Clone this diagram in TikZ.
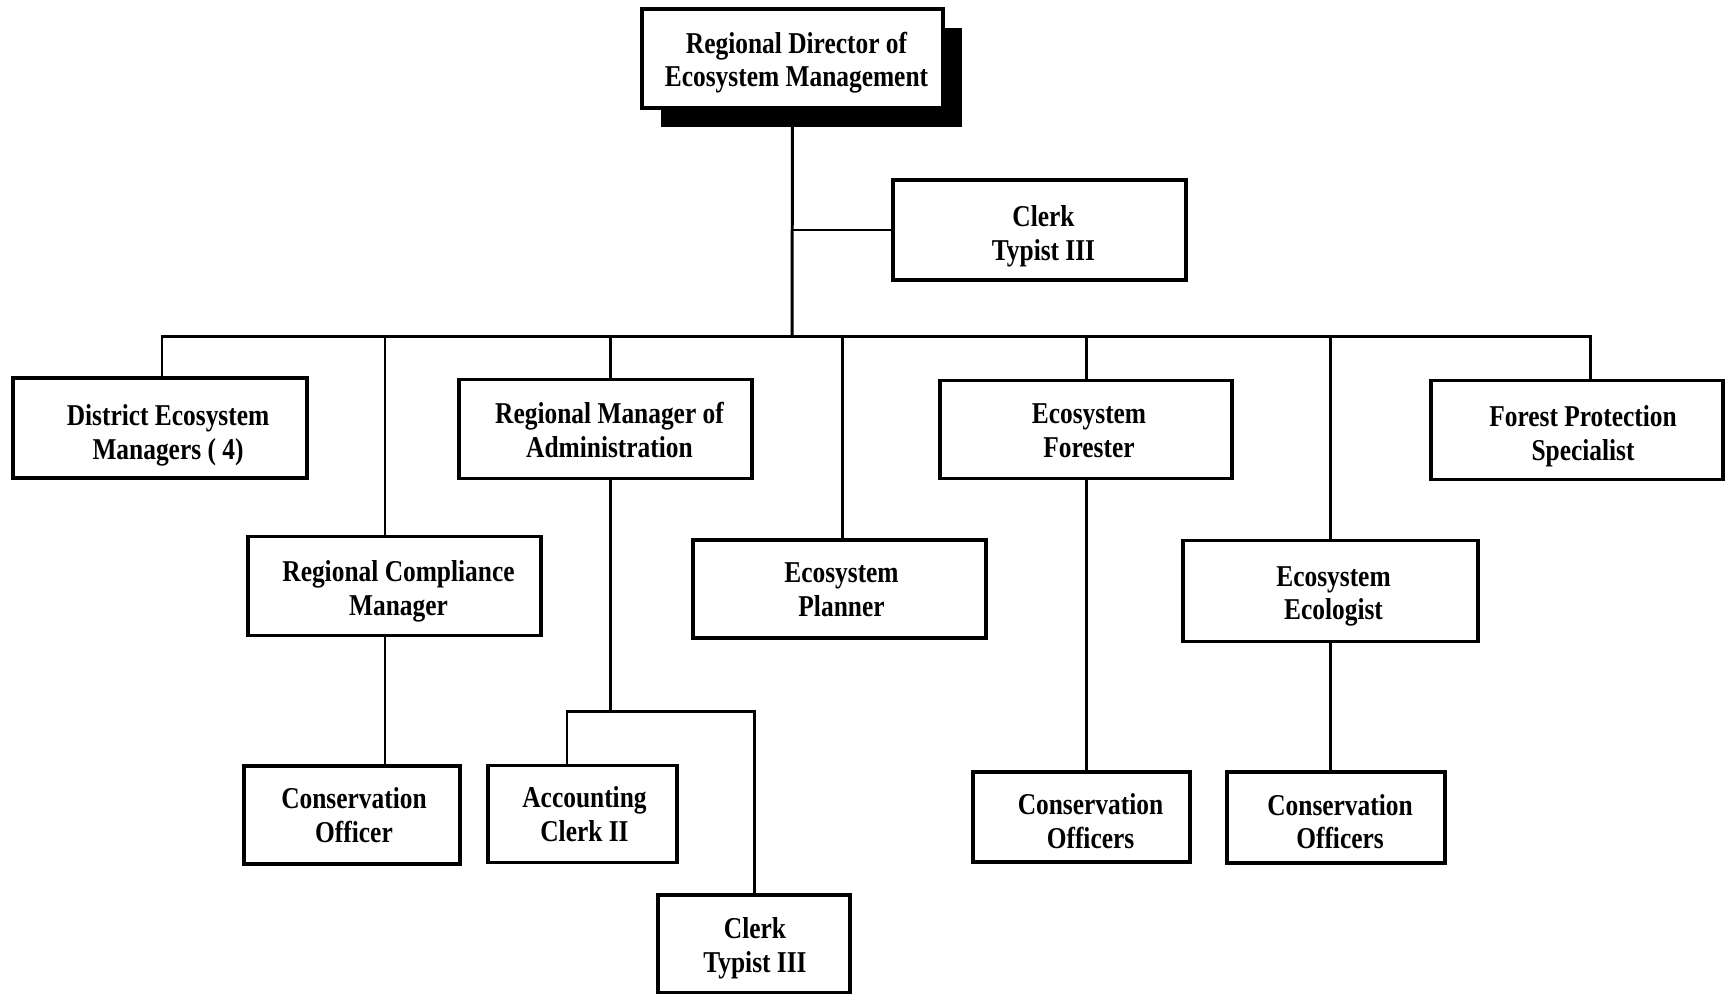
\documentclass[tikz,border=0pt]{standalone}
\usepackage{fontspec}
\setmainfont{Liberation Serif}[FakeStretch=0.84]
\usetikzlibrary{shadows}
\begin{document}
\begin{tikzpicture}[x=0.01cm,y=-0.01cm,
  frame/.style={draw, line width=1.1pt, fill=white, inner sep=0pt},
  txt/.style={align=center, inner sep=0pt, text depth=0pt,
    font=\bfseries\fontsize{8.6}{9.5}\selectfont},
  link/.style={line width=0.85pt}]
\useasboundingbox (0,0) rectangle (1730,994);

% top of the hierarchy
\node[frame, minimum width=3.01cm, minimum height=0.99cm,
  drop shadow={shadow xshift=0.19cm, shadow yshift=-0.19cm, fill=black, opacity=1}]
  (dir) at (792.5,58.5) {};
\node[txt] (dir-t) at ([shift={(4,1)}]dir.center) {Regional Director of\\Ecosystem Management};
\node[frame, minimum width=2.93cm, minimum height=1.0cm] (ct1) at (1039.5,230) {};
\node[txt] (ct1-t) at ([shift={(4,3)}]ct1.center) {Clerk\\Typist III};

% first level
\node[frame, minimum width=2.94cm, minimum height=1.0cm] (dm) at (160,428) {};
\node[txt] (dm-t) at ([shift={(8,4)}]dm.center) {District Ecosystem\\Managers ( 4)};
\node[frame, minimum width=2.93cm, minimum height=0.99cm] (adm) at (605.5,429) {};
\node[txt] (adm-t) at ([shift={(4,1)}]adm.center) {Regional Manager of\\Administration};
\node[frame, minimum width=2.92cm, minimum height=0.98cm] (for) at (1086,429.5) {};
\node[txt] (for-t) at ([shift={(3,1)}]for.center) {Ecosystem\\Forester};
\node[frame, minimum width=2.92cm, minimum height=0.99cm] (fp) at (1577,430) {};
\node[txt] (fp-t) at ([shift={(6,3)}]fp.center) {Forest Protection\\Specialist};

% second level
\node[frame, minimum width=2.93cm, minimum height=0.99cm] (rcm) at (394.5,586) {};
\node[txt] (rcm-t) at ([shift={(4,2)}]rcm.center) {Regional Compliance\\Manager};
\node[frame, minimum width=2.93cm, minimum height=0.98cm] (pl) at (839.5,588.6) {};
\node[txt] (pl-t) at ([shift={(2,1)}]pl.center) {Ecosystem\\Planner};
\node[frame, minimum width=2.95cm, minimum height=1.01cm] (eco) at (1330.5,591) {};
\node[txt] (eco-t) at ([shift={(3,2)}]eco.center) {Ecosystem\\Ecologist};

% third level
\node[frame, minimum width=2.16cm, minimum height=0.98cm] (co) at (352,815) {};
\node[txt] (co-t) at ([shift={(2,0)}]co.center) {Conservation\\Officer};
\node[frame, minimum width=1.89cm, minimum height=0.97cm] (acc) at (582.5,814) {};
\node[txt] (acc-t) at ([shift={(2,0)}]acc.center) {Accounting\\Clerk II};
\node[frame, minimum width=1.92cm, minimum height=0.98cm] (ct2) at (754,944) {};
\node[txt] (ct2-t) at ([shift={(1,1)}]ct2.center) {Clerk\\Typist III};
\node[frame, minimum width=2.17cm, minimum height=0.90cm] (cof) at (1081.5,817) {};
\node[txt] (cof-t) at ([shift={(9,4)}]cof.center) {Conservation\\Officers};
\node[frame, minimum width=2.18cm, minimum height=0.91cm] (coe) at (1336,817.5) {};
\node[txt] (coe-t) at ([shift={(4,4)}]coe.center) {Conservation\\Officers};

% junction points
\coordinate (bus) at (792,336.5);
\coordinate (adsplit) at (610,711.6);

% connectors
\draw[link] (dir.south) -- (bus);
\draw[link] (dir.south |- ct1.west) -- (ct1.west);
\draw[link] ([xshift=0.02cm]dm.north) |- (bus) -| ([xshift=0.13cm]fp.north);
\draw[link] ([xshift=0.045cm]adm.north) -- ([xshift=0.045cm]adm.north |- bus);
\draw[link] (for.north) -- (for.north |- bus);
\draw[link] ([xshift=-0.095cm]rcm.north) -- ([xshift=-0.095cm]rcm.north |- bus);
\draw[link] ([xshift=0.025cm]pl.north) -- ([xshift=0.025cm]pl.north |- bus);
\draw[link] (eco.north) -- (eco.north |- bus);

\draw[link] ([xshift=-0.095cm]rcm.south) -- ([xshift=-0.095cm]rcm.south |- co.north);
\draw[link] (adm.south -| adsplit) -- (adsplit);
\draw[link] ([xshift=-0.155cm]acc.north) |- (adsplit) -| (ct2.north);
\draw[link] (for.south) -- (for.south |- cof.north);
\draw[link] (eco.south) -- (eco.south |- coe.north);
\end{tikzpicture}
\end{document}
